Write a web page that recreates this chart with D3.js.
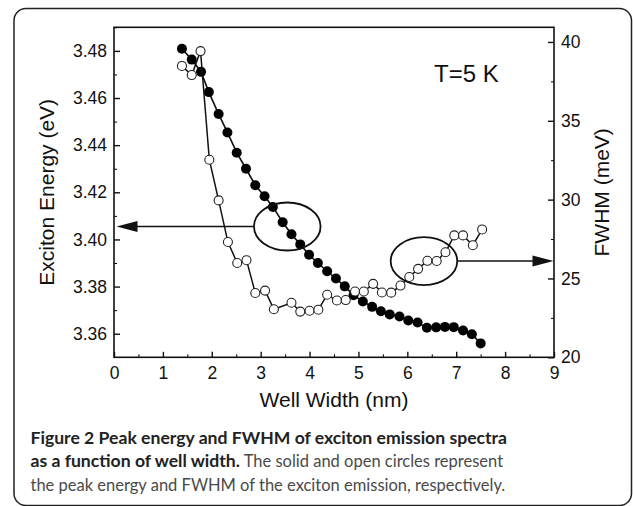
<!DOCTYPE html>
<html>
<head>
<meta charset="utf-8">
<script src="https://cdn.jsdelivr.net/npm/d3@7"></script>
<style>
  body { margin: 0; background: #fff; }
  svg text { font-family: "Liberation Sans", Arial, sans-serif; fill: #111; }
  .caption text { font-family: Lato, "Open Sans", sans-serif; }
</style>
</head>
<body>
<div id="chart"></div>
<script>
// solid circles: peak energy (eV), left axis
const solidWidth = [1.39, 1.59, 1.78, 1.94, 2.14, 2.32, 2.51, 2.70, 2.89, 3.08, 3.25, 3.45,
  3.63, 3.81, 3.99, 4.17, 4.36, 4.54, 4.72, 4.90, 5.09, 5.28, 5.46, 5.64, 5.84, 6.02,
  6.21, 6.40, 6.59, 6.77, 6.95, 7.14, 7.32, 7.50];
const solidEnergy = [3.4809, 3.4763, 3.4711, 3.4625, 3.4532, 3.4454, 3.4368, 3.4300, 3.4230,
  3.4183, 3.4138, 3.4073, 3.4022, 3.3979, 3.3935, 3.3900, 3.3865, 3.3834, 3.3801, 3.3763,
  3.3737, 3.3714, 3.3695, 3.3682, 3.3673, 3.3656, 3.3648, 3.3625, 3.3627, 3.3629, 3.3628,
  3.3614, 3.3598, 3.3559];

// open circles: FWHM (meV), right axis
const openWidth = [1.39, 1.59, 1.77, 1.95, 2.14, 2.33, 2.52, 2.71, 2.89, 3.09, 3.27, 3.63,
  3.81, 4.00, 4.18, 4.36, 4.56, 4.74, 4.93, 5.11, 5.30, 5.48, 5.67, 5.86, 6.04, 6.22,
  6.41, 6.60, 6.78, 6.96, 7.14, 7.34, 7.53];
const openFwhm = [38.48, 37.90, 39.42, 32.53, 29.95, 27.31, 25.98, 26.16, 24.08, 24.23,
  23.05, 23.46, 22.90, 22.95, 23.02, 23.97, 23.60, 23.63, 24.17, 24.17, 24.66, 24.11,
  24.10, 24.55, 25.09, 25.61, 26.12, 26.11, 26.66, 27.73, 27.73, 27.11, 28.11];

const xTickValues = [0, 1, 2, 3, 4, 5, 6, 7, 8, 9];
const energyTickValues = [3.36, 3.38, 3.40, 3.42, 3.44, 3.46, 3.48];
const fwhmTickValues = [20, 25, 30, 35, 40];

const captionLines = [
  [["Figure 2 Peak energy and FWHM of exciton emission spectra", true]],
  [["as a function of well width.", true], [" The solid and open circles represent", false]],
  [["the peak energy and FWHM of the exciton emission, respectively.", false]],
];

const width = 633;
const height = 506;
const plot = { left: 114, right: 554, top: 27.3, bottom: 357.3 };

const svg = d3.select("#chart").append("svg")
  .attr("width", width)
  .attr("height", height);

svg.append("rect")
  .attr("x", 14).attr("y", 8.5)
  .attr("width", 617.5).attr("height", 497)
  .attr("rx", 12)
  .attr("fill", "#fff")
  .attr("stroke", "#222")
  .attr("stroke-width", 1.5);

const x = d3.scaleLinear().domain([0, 9]).range([plot.left, plot.right]);
const yE = d3.scaleLinear().domain([3.35, 3.49]).range([plot.bottom, plot.top]);
const yF = d3.scaleLinear().domain([20, 40.93]).range([plot.bottom, plot.top]);

// minor ticks first, then major ticks with labels
const minor = (axis, g, values) => {
  g.call(axis.tickValues(values).tickFormat("").tickSizeOuter(0))
    .call((s) => s.select(".domain").remove());
};

svg.append("g").attr("transform", `translate(0,${plot.bottom})`)
  .call((g) => minor(d3.axisBottom(x).tickSize(-3), g, d3.range(0.5, 9, 1)));
svg.append("g").attr("transform", `translate(${plot.left},0)`)
  .call((g) => minor(d3.axisLeft(yE).tickSize(-3), g, d3.range(3.37, 3.49, 0.02)));
svg.append("g").attr("transform", `translate(${plot.right},0)`)
  .call((g) => minor(d3.axisRight(yF).tickSize(-3), g, [22.5, 27.5, 32.5, 37.5]));

const axisFont = (g) => {
  g.select(".domain").remove();
  g.selectAll("text").style("font-size", "17.5px").attr("fill", "#111");
  g.selectAll("line").attr("stroke", "#111").attr("stroke-width", 1.4);
};

svg.append("g").attr("transform", `translate(0,${plot.bottom})`)
  .call(d3.axisBottom(x).tickValues(xTickValues).tickFormat(d3.format("d"))
    .tickSize(-5.5).tickSizeOuter(0).tickPadding(9))
  .call(axisFont);

svg.append("g").attr("transform", `translate(${plot.left},0)`)
  .call(d3.axisLeft(yE).tickValues(energyTickValues).tickFormat(d3.format(".2f"))
    .tickSize(-6).tickSizeOuter(0).tickPadding(7))
  .call(axisFont);

svg.append("g").attr("transform", `translate(${plot.right},0)`)
  .call(d3.axisRight(yF).tickValues(fwhmTickValues).tickFormat(d3.format("d"))
    .tickSize(-6).tickSizeOuter(0).tickPadding(7))
  .call(axisFont);

svg.append("rect")
  .attr("x", plot.left).attr("y", plot.top)
  .attr("width", plot.right - plot.left).attr("height", plot.bottom - plot.top)
  .attr("fill", "none")
  .attr("stroke", "#111")
  .attr("stroke-width", 1.6);

// axis titles
svg.append("text")
  .attr("x", (plot.left + plot.right) / 2).attr("y", 407)
  .attr("text-anchor", "middle")
  .style("font-size", "21px")
  .text("Well Width (nm)");

svg.append("text")
  .attr("transform", `translate(54,${(plot.top + plot.bottom) / 2}) rotate(-90)`)
  .attr("text-anchor", "middle")
  .style("font-size", "21px")
  .text("Exciton Energy (eV)");

svg.append("text")
  .attr("transform", `translate(609,${(plot.top + plot.bottom) / 2}) rotate(-90)`)
  .attr("text-anchor", "middle")
  .style("font-size", "21px")
  .text("FWHM (meV)");

svg.append("text")
  .attr("x", 434).attr("y", 81.5)
  .style("font-size", "24px")
  .text("T=5 K");

// series
const solid = solidWidth.map((w, i) => ({ x: w, y: solidEnergy[i] }));
const open = openWidth.map((w, i) => ({ x: w, y: openFwhm[i] }));

svg.append("path")
  .datum(solid)
  .attr("fill", "none").attr("stroke", "#111").attr("stroke-width", 1.6)
  .attr("d", d3.line().x((d) => x(d.x)).y((d) => yE(d.y)));

svg.append("g").selectAll("circle")
  .data(solid)
  .join("circle")
  .attr("cx", (d) => x(d.x))
  .attr("cy", (d) => yE(d.y))
  .attr("r", 5)
  .attr("fill", "#000");

svg.append("path")
  .datum(open)
  .attr("fill", "none").attr("stroke", "#111").attr("stroke-width", 1.5)
  .attr("d", d3.line().x((d) => x(d.x)).y((d) => yF(d.y)));

svg.append("g").selectAll("circle")
  .data(open)
  .join("circle")
  .attr("cx", (d) => x(d.x))
  .attr("cy", (d) => yF(d.y))
  .attr("r", 4.5)
  .attr("fill", "#fff")
  .attr("stroke", "#222")
  .attr("stroke-width", 1.1);

// ellipses with arrows to the matching axis
const notes = [
  { cx: 3.544, cy: yE(3.4055), side: "left" },
  { cx: 6.34, cy: yF(26.1), side: "right" },
];
notes.forEach((n) => {
  const cx = x(n.cx);
  const rx = 33.3, ry = 24;
  svg.append("ellipse")
    .attr("cx", cx).attr("cy", n.cy)
    .attr("rx", rx).attr("ry", ry)
    .attr("fill", "none").attr("stroke", "#111").attr("stroke-width", 1.8);
  const tip = n.side === "left" ? plot.left + 2.5 : plot.right - 0.5;
  const start = n.side === "left" ? cx - rx : cx + rx;
  const dir = n.side === "left" ? 1 : -1;
  svg.append("line")
    .attr("x1", start).attr("y1", n.cy)
    .attr("x2", tip + dir * 10).attr("y2", n.cy)
    .attr("stroke", "#111").attr("stroke-width", 1.5);
  svg.append("path")
    .attr("d", `M${tip},${n.cy}L${tip + dir * 21},${n.cy - 5.5}L${tip + dir * 21},${n.cy + 5.5}Z`)
    .attr("fill", "#111");
});

// caption
const caption = svg.append("g").attr("class", "caption");
captionLines.forEach((parts, i) => {
  const t = caption.append("text")
    .attr("x", 30.5)
    .attr("y", 444 + i * 23.3);
  parts.forEach(([s, bold]) => {
    t.append("tspan")
      .attr("font-weight", bold ? 700 : 400)
      .attr("fill", bold ? "#222" : "#4a4a4a")
      .style("font-size", bold ? "17.6px" : "16.5px")
      .text(s);
  });
});
</script>
</body>
</html>
